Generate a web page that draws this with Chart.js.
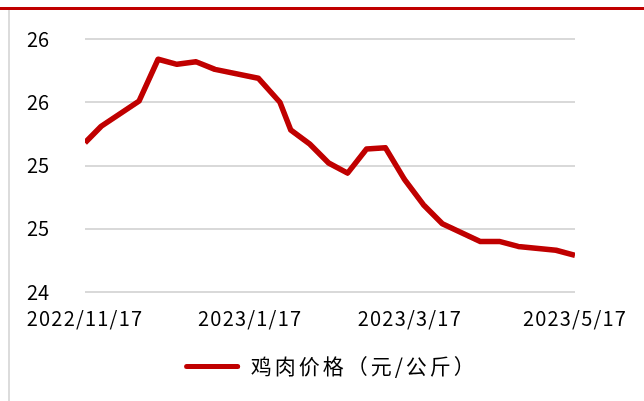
<!DOCTYPE html>
<html>
<head>
<meta charset="utf-8">
<script src="https://cdn.jsdelivr.net/npm/chart.js@4/dist/chart.umd.min.js"></script>
<style>
  html, body { margin: 0; padding: 0; background: #fff; }
  #wrap { position: relative; width: 644px; height: 401px; overflow: hidden; }
  #frame { position: absolute; left: 0; top: 7px; width: 644px; height: 394px;
           border-top: 3px solid #c00000; box-sizing: border-box; }
  #side { position: absolute; left: 8px; top: 10px; width: 2px; height: 391px; background: #dcdcdc; }
  #myChart { position: absolute; left: 0; top: 0; }
</style>
</head>
<body>
<div id="wrap">
  <div id="frame"></div>
  <div id="side"></div>
  <canvas id="myChart" width="644" height="401"></canvas>
</div>
<script>
"use strict";

// dates of the points
const dates = [
  "2022-11-17", "2022-11-23", "2022-12-07", "2022-12-14", "2022-12-21", "2022-12-28",
  "2023-01-04", "2023-01-20", "2023-01-28", "2023-02-01", "2023-02-08", "2023-02-15",
  "2023-02-22", "2023-03-01", "2023-03-08", "2023-03-15", "2023-03-22", "2023-03-29",
  "2023-04-12", "2023-04-19", "2023-04-26", "2023-05-10", "2023-05-17"
];
const prices = [
  25.18, 25.31, 25.51, 25.84, 25.80, 25.82,
  25.76, 25.69, 25.50, 25.28, 25.17, 25.02,
  24.94, 25.13, 25.14, 24.89, 24.69, 24.54,
  24.40, 24.40, 24.36, 24.33, 24.29
];
const tickDates = ["2022-11-17", "2023-01-17", "2023-03-17", "2023-05-17"];
const seriesName = "鸡肉价格（元/公斤）";

const startMs = Date.parse(dates[0]);
const toDay = (d) => Math.round((Date.parse(d) - startMs) / 86400000);
const fmtDay = (n) => {
  const d = new Date(startMs + n * 86400000);
  return `${d.getUTCFullYear()}/${d.getUTCMonth() + 1}/${d.getUTCDate()}`;
};

const points = dates.map((d, i) => ({ x: toDay(d), y: prices[i] }));
const tickDays = tickDates.map(toDay);

const ctx = document.getElementById("myChart");
const font = "'Noto Sans CJK SC', 'DejaVu Sans', sans-serif";

const withSpacing = (obj, method, c, spacing) => {
  const orig = obj[method].bind(obj);
  obj[method] = (...args) => {
    c.save();
    c.letterSpacing = spacing;
    orig(...args);
    c.restore();
  };
};

// text in the picture is spaced out a bit (legend, date labels)
const spacedText = {
  id: "spacedText",
  afterInit: (chart) => {
    withSpacing(chart.legend, "fit", chart.ctx, "3px");
    withSpacing(chart.legend, "draw", chart.ctx, "3px");
  },
  beforeDraw: (chart) => {
    const x = chart.scales.x;
    if (x && !x._spaced) {
      withSpacing(x, "drawLabels", chart.ctx, "1.2px");
      x._spaced = true;
    }
  },
};

new Chart(ctx, {
  type: "line",
  data: {
    datasets: [
      {
        label: seriesName,
        data: points,
        borderColor: "#c00000",
        backgroundColor: "#c00000",
        borderWidth: 5.5,
        borderJoinStyle: "round",
        borderCapStyle: "butt",
        pointRadius: 0,
        tension: 0,
      },
    ],
  },
  options: {
    responsive: false,
    animation: false,
    layout: { padding: { left: 27, right: 9, top: 39, bottom: 14 } },
    scales: {
      x: {
        type: "linear",
        min: tickDays[0],
        max: tickDays[tickDays.length - 1],
        afterBuildTicks: (axis) => {
          axis.ticks = tickDays.map((v) => ({ value: v }));
        },
        afterFit: (axis) => { axis.height += 10; },
        grid: { display: false },
        border: { display: false },
        ticks: {
          autoSkip: false,
          maxRotation: 0,
          padding: 6,
          color: "#000",
          font: { family: font, size: 20 },
          callback: (v) => fmtDay(v),
        },
      },
      y: {
        min: 24,
        max: 26,
        afterFit: (axis) => { axis.width = 58; },
        grid: { color: "#d9d9d9", lineWidth: 2, drawTicks: false },
        border: { display: false },
        ticks: {
          stepSize: 0.5,
          padding: 0,
          crossAlign: "far",
          color: "#000",
          font: { family: font, size: 20 },
          callback: (v) => Math.round(v),
        },
      },
      // empty right-hand axis, only keeps the space on the right of the plot
      yRight: {
        position: "right",
        min: 24,
        max: 26,
        afterFit: (axis) => { axis.width = 60; },
        grid: { display: false },
        border: { display: false },
        ticks: { display: false },
      },
    },
    plugins: {
      tooltip: { enabled: false },
      legend: {
        position: "bottom",
        labels: {
          boxWidth: 56,
          boxHeight: 5,
          useBorderRadius: true,
          borderRadius: 2.5,
          padding: 10,
          color: "#000",
          font: { family: font, size: 21 },
          generateLabels: (chart) =>
            Chart.defaults.plugins.legend.labels.generateLabels(chart).map((l) => ({ ...l, lineWidth: 0 })),
        },
      },
    },
  },
  plugins: [spacedText],
});
</script>
</body>
</html>
